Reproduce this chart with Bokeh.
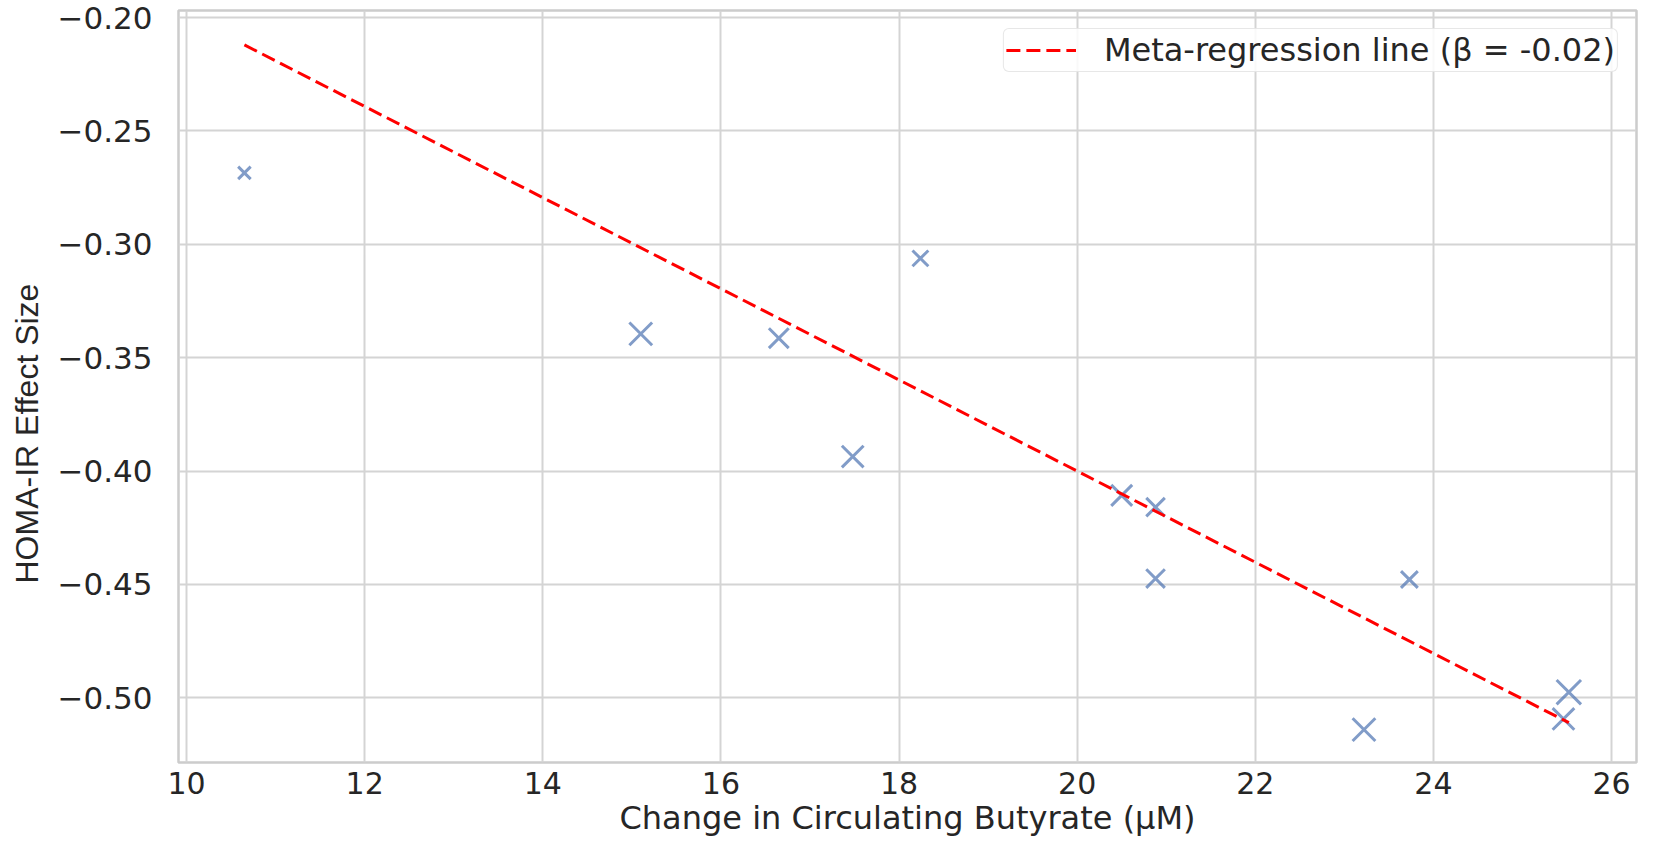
from bokeh.plotting import figure
from bokeh.models import Range1d, FixedTicker, CustomJSTickFormatter, ColumnDataSource, Title
from bokeh.embed import file_html
from bokeh.resources import INLINE

# ---- data ----
butyrate_change = [10.65, 15.10, 16.65, 17.48, 18.24, 20.50, 20.88, 20.88, 23.73, 23.22, 25.52, 25.46]
homa_ir_effect = [-0.2685, -0.3395, -0.3414, -0.3936, -0.3062, -0.4107, -0.4159, -0.4474, -0.4478, -0.5140, -0.4975, -0.5093]
study_weight = [10, 33, 25, 30, 16, 28, 22, 22, 18, 33, 38, 30]
reg_intercept = 0.002
reg_slope = -0.0201
legend_text = "Meta-regression line (β = -0.02)"
x_label = "Change in Circulating Butyrate (μM)"
y_label = "HOMA-IR Effect Size"
x_ticks = [10, 12, 14, 16, 18, 20, 22, 24, 26]
y_ticks = [-0.50, -0.45, -0.40, -0.35, -0.30, -0.25, -0.20]

# Bokeh's "x" marker spans about size/sqrt(2), hence the larger factor
sizes = [5.6 * (w ** 0.5) for w in study_weight]
src = ColumnDataSource(dict(x=butyrate_change, y=homa_ir_effect, s=sizes))

line_x = [min(butyrate_change), max(butyrate_change)]
line_y = [reg_intercept + reg_slope * v for v in line_x]

p = figure(width=1638, height=841, output_backend="svg", toolbar_location=None,
           x_range=Range1d(9.91, 26.28), y_range=Range1d(-0.5285, -0.1969),
           min_border_left=177, min_border_right=2, min_border_top=10, min_border_bottom=79)

p.background_fill_color = "white"
p.border_fill_color = "white"
p.outline_line_color = "#cccccc"
p.outline_line_width = 2.5

p.scatter("x", "y", source=src, marker="x", size="s", line_color="#4c72b0",
          line_alpha=0.7, line_width=3)
p.line(line_x, line_y, line_color="#ff0000", line_width=3, line_dash="14 6",
       legend_label=legend_text)

for ax in (p.xaxis[0], p.yaxis[0]):
    ax.axis_line_color = None
    ax.major_tick_line_color = None
    ax.minor_tick_line_color = None
    ax.major_tick_out = 0
    ax.major_tick_in = 0
    ax.minor_tick_out = 0
    ax.minor_tick_in = 0
    ax.major_label_text_font = "DejaVu Sans"
    ax.major_label_text_color = "#262626"

p.xaxis.major_label_text_font_size = "30px"
p.yaxis.major_label_text_font_size = "31px"
p.xaxis.ticker = FixedTicker(ticks=x_ticks)
p.yaxis.ticker = FixedTicker(ticks=y_ticks)
p.yaxis.formatter = CustomJSTickFormatter(
    code="return (tick < 0 ? '\u2212' : '') + Math.abs(tick).toFixed(2);")
p.xaxis.major_label_standoff = 9
p.yaxis.major_label_standoff = 26

# x label as a bottom title resting on the lower edge, leaving a clear gap below the tick labels
xtitle = Title(text=x_label, align="center", vertical_align="bottom",
               text_font="DejaVu Sans", text_font_size="32px",
               text_font_style="normal", text_color="#262626")
try:
    xtitle.standoff = 0
except Exception:
    pass
p.add_layout(xtitle, "below")

# y label as a left-side title so that it sits a little below the frame centre, as in the reference
ytitle = Title(text=y_label, align="left", offset=179, vertical_align="top",
               text_font="Liberation Sans", text_font_size="32px",
               text_font_style="normal", text_color="#262626")
try:
    ytitle.standoff = 16
except Exception:
    pass
p.add_layout(ytitle, "left")

p.xgrid.grid_line_color = "#d4d4d4"
p.ygrid.grid_line_color = "#d4d4d4"
p.xgrid.grid_line_width = 2
p.ygrid.grid_line_width = 2

lg = p.legend[0]
lg.location = "top_right"
lg.margin = 18
lg.padding = 2
lg.glyph_width = 70
lg.label_standoff = 28
lg.label_text_font = "DejaVu Sans"
lg.label_text_font_size = "32px"
lg.label_text_color = "#262626"
lg.border_line_color = "#d0d0d0"
lg.border_line_width = 1.5
lg.border_radius = 6
lg.background_fill_alpha = 0.85

with open("out.html", "w", encoding="utf-8") as f:
    f.write(file_html(p, INLINE))
